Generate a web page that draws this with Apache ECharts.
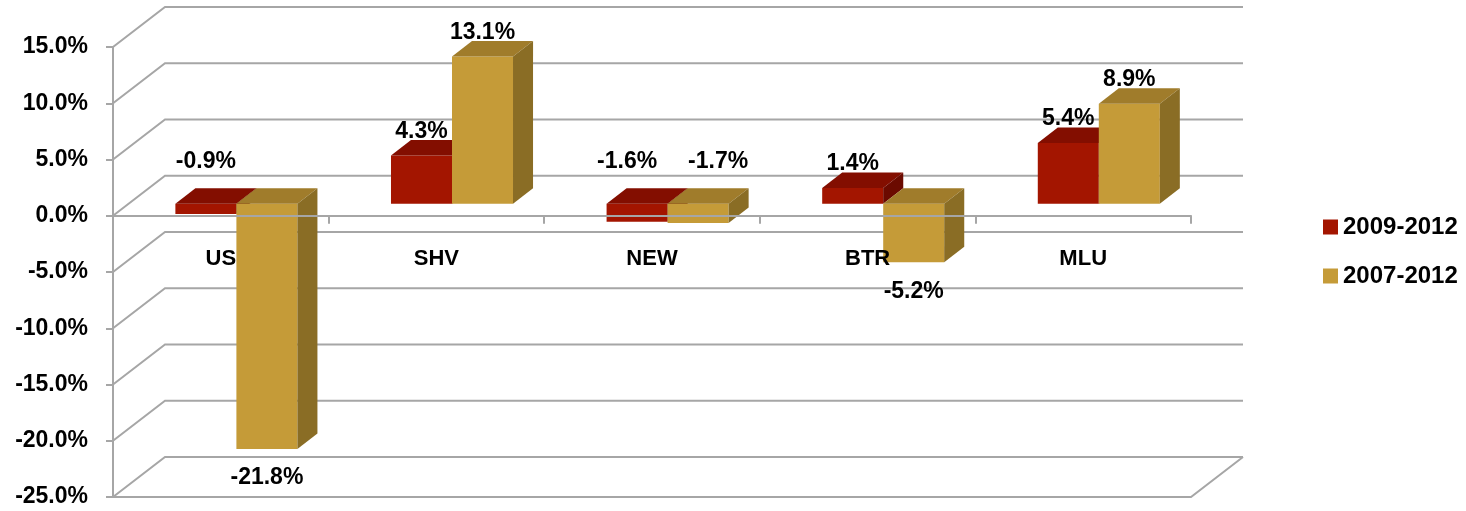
<!DOCTYPE html>
<html>
<head>
<meta charset="utf-8">
<script src="https://cdn.jsdelivr.net/npm/echarts@6/dist/echarts.min.js"></script>
<style>
  html, body { margin: 0; padding: 0; background: #fff; }
  #showDiv { width: 1466px; height: 511px; }
</style>
</head>
<body>
<div id="showDiv"></div>
<script>
var categories = ['US', 'SHV', 'NEW', 'BTR', 'MLU'];
var seriesNames = ['2009-2012', '2007-2012'];
var growth0912 = [-0.9, 4.3, -1.6, 1.4, 5.4];
var growth0712 = [-21.8, 13.1, -1.7, -5.2, 8.9];
var yTicks = [-25, -20, -15, -10, -5, 0, 5, 10, 15];
var allSeries = [growth0912, growth0712];

// 3d look: offset of the back wall, bar depth as part of it
var DX = 52, DY = -40;
var FRONT = 0.3, DEPTH = 0.385;
var FAMILY = '"Liberation Sans", Arial, sans-serif';
var GRID_COLOR = '#a6a6a6';

var colors = [
    { front: '#a31500', top: '#830e00', side: '#6b0a00' },
    { front: '#c59b38', top: '#a07c2b', side: '#8a6d25' }
];

var myChart = echarts.init(document.getElementById('showDiv'));

function smallNeg(v) {
    return v < 0 && v > -3;
}

function wallItem(params, api) {
    var cs = params.coordSys;
    var v = api.value(1);
    var y = api.coord([0, v])[1];
    var L = cs.x, R = cs.x + cs.width;
    var style = { stroke: GRID_COLOR, lineWidth: 2, fill: null };
    var children = [{
        type: 'polyline',
        shape: { points: [[L, y], [L + DX, y + DY], [R + DX, y + DY]] },
        style: style
    }];
    if (v === yTicks[0]) {
        children.push({
            type: 'polyline',
            shape: { points: [[L, y], [R, y], [R + DX, y + DY]] },
            style: style
        });
    }
    return { type: 'group', children: children };
}

function catLabel(params, api) {
    var i = api.value(0);
    var c = api.coord([i, 0]);
    return {
        type: 'text',
        style: { text: categories[i], x: c[0], y: c[1] + 43,
                 align: 'center', verticalAlign: 'middle', font: 'bold 22px ' + FAMILY, fill: '#000' }
    };
}

function barRenderer(s) {
    return function (params, api) {
        var i = api.value(0), v = api.value(1);
        var c0 = api.coord([i, 0]);
        var c1 = api.coord([i, v]);
        var bw = api.size([1, 0])[0] * 0.283;
        var fx = DX * FRONT, fy = DY * FRONT;
        var dx = DX * DEPTH, dy = DY * DEPTH;
        var x0 = c0[0] + (s === 0 ? -bw : 0) + fx;
        var x1 = x0 + bw;
        var yTop = Math.min(c0[1], c1[1]) + fy;
        var yBot = Math.max(c0[1], c1[1]) + fy;
        var col = colors[s];
        var lx = (x0 + x1) / 2, ly;
        if (v >= 0) {
            ly = yTop - 24;
        } else if (v > -3) {
            ly = yTop - 42;
            // both labels small negatives: push them apart
            if (smallNeg(allSeries[1 - s][i])) {
                lx += s === 0 ? -10 : 20;
            }
        } else {
            ly = yBot + 29;
        }
        return {
            type: 'group',
            children: [
                { type: 'rect', shape: { x: x0, y: yTop, width: bw, height: yBot - yTop },
                  style: { fill: col.front } },
                { type: 'polygon', shape: { points: [[x0, yTop], [x1, yTop], [x1 + dx, yTop + dy], [x0 + dx, yTop + dy]] },
                  style: { fill: col.top } },
                { type: 'polygon', shape: { points: [[x1, yTop], [x1 + dx, yTop + dy], [x1 + dx, yBot + dy], [x1, yBot]] },
                  style: { fill: col.side } },
                { type: 'text', z2: 10,
                  style: { text: v.toFixed(1) + '%', x: lx, y: ly,
                           align: 'center', verticalAlign: 'middle', font: 'bold 23px ' + FAMILY, fill: '#000' } }
            ]
        };
    };
}

option = {
    animation: false,
    grid: {
        left: 113,
        right: 275,
        top: 47,
        bottom: 14,
        outerBoundsMode: 'none'
    },
    legend: {
        data: seriesNames,
        orient: 'vertical',
        left: 1318,
        top: 210,
        icon: 'rect',
        itemWidth: 15,
        itemHeight: 15,
        itemGap: 25,
        textStyle: { fontFamily: FAMILY, fontWeight: 'bold', fontSize: 24, color: '#000' }
    },
    xAxis: {
        type: 'category',
        data: categories,
        z: 10,
        axisLine: { onZero: true, lineStyle: { color: GRID_COLOR, width: 2 } },
        axisTick: { show: true, length: 8, lineStyle: { color: GRID_COLOR, width: 2 } },
        axisLabel: { show: false },
        splitLine: { show: false }
    },
    yAxis: {
        type: 'value',
        min: -25,
        max: 15,
        interval: 5,
        axisLine: { show: true, lineStyle: { color: GRID_COLOR, width: 2 } },
        axisTick: { show: true, length: 7, lineStyle: { color: GRID_COLOR, width: 2 } },
        axisLabel: {
            margin: 25,
            formatter: function (v) { return v.toFixed(1) + '%'; },
            fontFamily: FAMILY,
            fontWeight: 'bold',
            fontSize: 23,
            color: '#000'
        },
        splitLine: { show: false }
    },
    series: [
        {
            name: 'wall',
            type: 'custom',
            silent: true,
            z: 1,
            renderItem: wallItem,
            data: yTicks.map(function (v) { return [0, v]; })
        },
        {
            name: seriesNames[0],
            type: 'custom',
            z: 2,
            itemStyle: { color: colors[0].front },
            renderItem: barRenderer(0),
            data: growth0912.map(function (v, i) { return [i, v]; })
        },
        {
            name: seriesNames[1],
            type: 'custom',
            z: 2,
            itemStyle: { color: colors[1].front },
            renderItem: barRenderer(1),
            data: growth0712.map(function (v, i) { return [i, v]; })
        },
        {
            name: 'categories',
            type: 'custom',
            silent: true,
            z: 3,
            renderItem: catLabel,
            data: categories.map(function (c, i) { return [i, 0]; })
        }
    ]
};
myChart.setOption(option);
</script>
</body>
</html>
